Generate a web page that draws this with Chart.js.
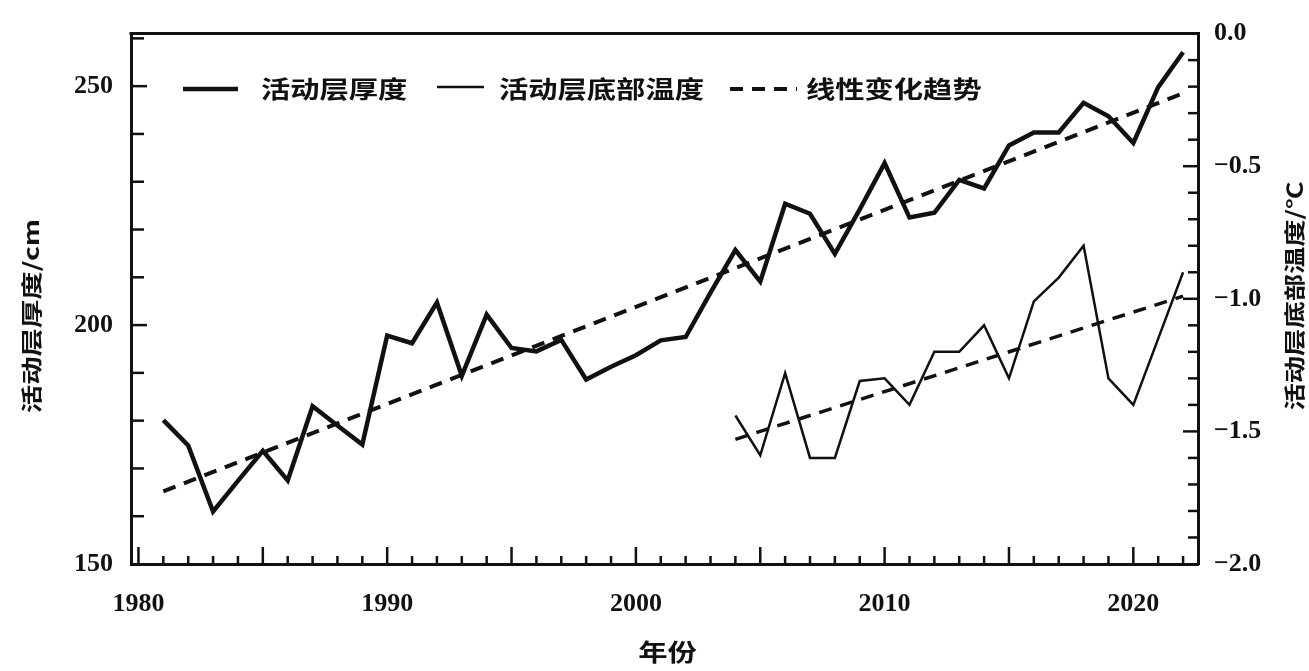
<!DOCTYPE html>
<html>
<head>
<meta charset="utf-8">
<script src="https://cdn.jsdelivr.net/npm/chart.js@4.4.1/dist/chart.umd.min.js"></script>
<style>
  html, body { margin: 0; padding: 0; background: #fff; }
  canvas { display: block; }
</style>
</head>
<body>
<canvas id="chart" width="1309" height="671"></canvas>
<script>
// Active-layer thickness (cm), 1981–2022
const thicknessYears = [1981, 1982, 1983, 1984, 1985, 1986, 1987, 1988, 1989, 1990,
  1991, 1992, 1993, 1994, 1995, 1996, 1997, 1998, 1999, 2000,
  2001, 2002, 2003, 2004, 2005, 2006, 2007, 2008, 2009, 2010,
  2011, 2012, 2013, 2014, 2015, 2016, 2017, 2018, 2019, 2020, 2021, 2022];
const thicknessValues = [180.1, 174.8, 161.0, 167.4, 173.7, 167.5, 183.0, 179.0, 175.0, 197.8,
  196.2, 204.7, 189.4, 202.2, 195.2, 194.5, 196.9, 188.6, 191.3, 193.7,
  196.8, 197.5, 206.8, 215.7, 209.1, 225.4, 223.3, 214.9, 224.2, 233.9,
  222.5, 223.5, 230.4, 228.6, 237.6, 240.3, 240.3, 246.5, 243.7, 238.1, 249.8, 257.1];

// Temperature at the bottom of the active layer (°C), 2004–2022
const temperatureYears = [2004, 2005, 2006, 2007, 2008, 2009, 2010, 2011, 2012, 2013,
  2014, 2015, 2016, 2017, 2018, 2019, 2020, 2021, 2022];
const temperatureValues = [-1.44, -1.59, -1.28, -1.60, -1.60, -1.31, -1.30, -1.40, -1.20, -1.20,
  -1.10, -1.30, -1.01, -0.92, -0.80, -1.30, -1.40, -1.15, -0.90];

// Linear trends (end points)
const thicknessTrendYears = [1981, 2022];
const thicknessTrendValues = [165.2, 248.5];
const temperatureTrendYears = [2004, 2022];
const temperatureTrendValues = [-1.53, -0.99];

// Axis ticks
const yearTicks = [1980, 1990, 2000, 2010, 2020];
const thicknessTicks = [150, 200, 250];
const temperatureTicks = [-2.0, -1.5, -1.0, -0.5, 0.0];

// Text
const legendLabels = ['活动层厚度', '活动层底部温度', '线性变化趋势'];
const xTitle = '年份';
const leftTitle = '活动层厚度/cm';
const rightTitle = '活动层底部温度/℃';

const INK = '#111';
const CJK = '"Noto Sans CJK SC", "Noto Sans", sans-serif';
const NUM_FONT = { family: '"Liberation Serif", "DejaVu Serif", serif', size: 26, weight: 'bold' };

function pairs(xs, ys) { return xs.map((x, i) => ({ x: x, y: ys[i] })); }

function drawText(ctx, text, x, y, opt) {
  ctx.save();
  ctx.translate(x, y);
  if (opt.rot) ctx.rotate(opt.rot);
  ctx.scale(opt.sx || 1, 1);
  ctx.font = (opt.weight || 'bold') + ' ' + opt.size + 'px ' + CJK;
  ctx.fillStyle = INK;
  ctx.textAlign = opt.align || 'left';
  ctx.textBaseline = 'middle';
  ctx.fillText(text, 0, 0);
  ctx.restore();
}

function strokeSeg(ctx, x1, y1, x2, y2, w, dash) {
  ctx.save();
  ctx.strokeStyle = INK;
  ctx.lineWidth = w;
  ctx.setLineDash(dash || []);
  ctx.beginPath();
  ctx.moveTo(x1, y1);
  ctx.lineTo(x2, y2);
  ctx.stroke();
  ctx.restore();
}

// Closed frame, inward tick marks, legend and axis titles
const decorations = {
  id: 'decorations',
  afterDraw(chart) {
    const ctx = chart.ctx;
    const a = chart.chartArea;
    const sx = chart.scales.x, sl = chart.scales.yL, sr = chart.scales.yR;

    // top edge of the frame
    strokeSeg(ctx, a.left - 1.5, a.top, a.right + 1.5, a.top, 3);

    // year ticks: every year, longer every 5 years
    for (let yr = 1980; yr <= 2022; yr++) {
      const px = sx.getPixelForValue(yr);
      const len = yr % 5 === 0 ? 17 : 8;
      strokeSeg(ctx, px, a.bottom, px, a.bottom - len, 2.5);
    }
    // thickness ticks every 10 cm
    for (let v = 160; v <= 260; v += 10) {
      const py = sl.getPixelForValue(v);
      const len = v % 50 === 0 ? 16 : 13;
      strokeSeg(ctx, a.left, py, a.left + len, py, 2.5);
    }
    // temperature ticks every 0.1 °C
    for (let k = -19; k <= -1; k++) {
      const py = sr.getPixelForValue(k / 10);
      const len = k % 5 === 0 ? 15 : 10;
      strokeSeg(ctx, a.right, py, a.right - len, py, 2.5);
    }

    // legend inside the plot
    const ly = 89;
    strokeSeg(ctx, 183, ly, 238, ly, 4.5);
    drawText(ctx, legendLabels[0], 261, ly, { size: 24, sx: 1.22 });
    strokeSeg(ctx, 437, ly - 2, 484, ly - 2, 2.5);
    drawText(ctx, legendLabels[1], 499, ly, { size: 24, sx: 1.22 });
    strokeSeg(ctx, 730, ly, 797, ly, 4, [13, 9]);
    drawText(ctx, legendLabels[2], 806, ly, { size: 24, sx: 1.22 });

    // axis titles
    drawText(ctx, xTitle, (a.left + a.right) / 2 + 3, 652, { size: 24, sx: 1.22, align: 'center' });
    drawText(ctx, leftTitle, 31, 316, { size: 21, sx: 1.35, rot: -Math.PI / 2, align: 'center' });
    drawText(ctx, rightTitle, 1294, 296, { size: 21, sx: 1.3, rot: -Math.PI / 2, align: 'center' });
  }
};

const lineBase = { pointRadius: 0, pointHoverRadius: 0, tension: 0, fill: false,
  borderColor: INK, backgroundColor: INK, borderJoinStyle: 'miter', borderCapStyle: 'butt' };

new Chart(document.getElementById('chart'), {
  type: 'line',
  data: {
    datasets: [
      Object.assign({}, lineBase, { label: legendLabels[0], data: pairs(thicknessYears, thicknessValues),
        yAxisID: 'yL', borderWidth: 4.5 }),
      Object.assign({}, lineBase, { label: legendLabels[2], data: pairs(thicknessTrendYears, thicknessTrendValues),
        yAxisID: 'yL', borderWidth: 4, borderDash: [13, 9] }),
      Object.assign({}, lineBase, { label: legendLabels[1], data: pairs(temperatureYears, temperatureValues),
        yAxisID: 'yR', borderWidth: 2.5 }),
      Object.assign({}, lineBase, { label: legendLabels[2], data: pairs(temperatureTrendYears, temperatureTrendValues),
        yAxisID: 'yR', borderWidth: 3.5, borderDash: [13, 9] })
    ]
  },
  options: {
    responsive: false,
    animation: false,
    devicePixelRatio: 1,
    layout: { padding: { top: 30, left: 0, right: 0, bottom: 0 } },
    plugins: { legend: { display: false }, tooltip: { enabled: false }, title: { display: false } },
    scales: {
      x: {
        type: 'linear', position: 'bottom', min: 1979.7, max: 2022.6,
        afterBuildTicks: s => { s.ticks = yearTicks.map(v => ({ value: v })); },
        afterFit: s => { s.height = 107; },
        ticks: { callback: v => String(v), font: NUM_FONT, color: INK, padding: 25,
          maxRotation: 0, autoSkip: false },
        grid: { display: false, drawTicks: false },
        border: { display: true, color: INK, width: 3 }
      },
      yL: {
        type: 'linear', position: 'left', min: 150, max: 261,
        afterBuildTicks: s => { s.ticks = thicknessTicks.map(v => ({ value: v })); },
        afterFit: s => { s.width = 131; },
        ticks: { callback: v => String(v), font: NUM_FONT, color: INK, padding: 18 },
        grid: { display: false, drawTicks: false },
        border: { display: true, color: INK, width: 3 }
      },
      yR: {
        type: 'linear', position: 'right', min: -2, max: 0,
        afterBuildTicks: s => { s.ticks = temperatureTicks.map(v => ({ value: v })); },
        afterFit: s => { s.width = 111; },
        ticks: { callback: v => (v < 0 ? '\u2212' : '') + Math.abs(v).toFixed(1), font: NUM_FONT,
          color: INK, padding: 16 },
        grid: { display: false, drawTicks: false },
        border: { display: true, color: INK, width: 3 }
      }
    }
  },
  plugins: [decorations]
});
</script>
</body>
</html>
